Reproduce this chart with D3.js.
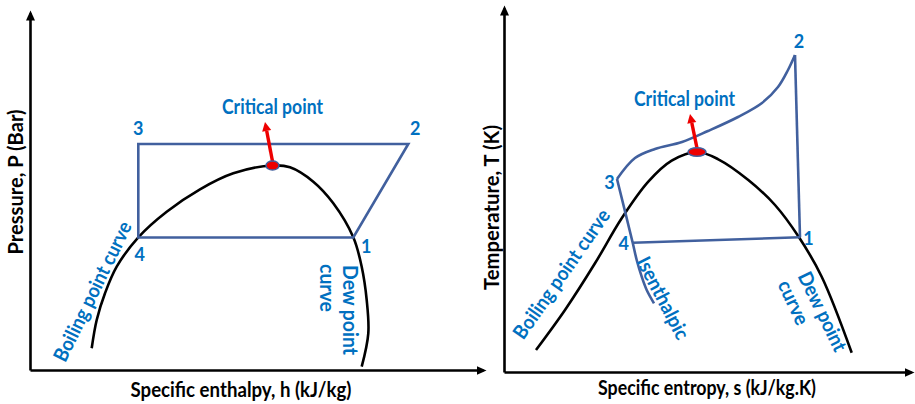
<!DOCTYPE html>
<html>
<head>
<meta charset="utf-8">
<script src="https://cdn.jsdelivr.net/npm/d3@7"></script>
<style>
  html, body { margin: 0; padding: 0; background: #ffffff; }
  svg { display: block; }
  text { font-family: Lato, "Open Sans", "DejaVu Sans", sans-serif; font-weight: 700; }
</style>
</head>
<body>
<svg id="chart" width="915" height="404"></svg>
<script>
// ---------- Pressure–enthalpy diagram (schematic units) ----------
// saturation dome: boiling branch → critical point → dew branch
const phDome = [[61.7,21.7],[66.7,50],[75,76.7],[86.7,103.3],[108.3,132.7],[136.7,158.3],
                [170,180.7],[203.3,196.7],[242.5,204.5],[260,202.7],[283.3,188.3],[303.3,166.7],
                [323.3,132.7],[331.7,103.3],[336.7,70],[338.3,36.7],[331.7,3.3]];
// refrigeration cycle corners, in order 4 → 3 → 2 → 1
const phCycle  = [[108.3,132.5],[108.3,226],[378.3,226],[323.3,132.5]];
const phStates = ["4","3","2","1"];
const phCritical = [242.5,204.5];
const phCriticalArrowTip = [235,248];

// ---------- Temperature–entropy diagram (schematic units) ----------
const tsDome = [[32,22],[61,62],[91,108.7],[117.7,153.7],[144.3,190.3],[167.7,211.3],[193,220],
                [214.3,212.7],[244.3,192],[271,167],[295,134.7],[317.7,95.3],[347.7,19.3]];
// heat rejection 2 → 3, drawn from state 3 up to state 2
const tsGasCooler   = [[113,193],[131,214],[151,223],[178,230],[204,241],[234,255],[258,269],
                       [274,285],[284,302],[291,317]];
const tsCompression = [[291,317],[296,134.7]];          // 2 ↔ 1
const tsEvaporation = [[296,134.7],[128.7,129.3]];      // 1 → 4
const tsIsenthalpic = [[113,193],[128.7,129.3],[132.7,112],[137.7,95.3],[142.7,82],[150,68.7]];
const tsStates      = ["2","1","4","3"];
const tsStatePoints = [[291,317],[296,134.7],[128.7,129.3],[113,193]];
const tsCritical = [193,220];
const tsCriticalArrowTip = [186,258];

// ---------- styling ----------
const CYCLE = "#41609e", LABEL = "#0070c0", RED = "#ee0000", INK = "#000000";
const FONT = 20;

const svg = d3.select("#chart");

// arrowhead used at the end of every axis line
svg.append("defs").append("marker")
  .attr("id", "axisHead")
  .attr("markerUnits", "userSpaceOnUse")
  .attr("markerWidth", 11).attr("markerHeight", 10)
  .attr("refX", 7).attr("refY", 4.5)
  .attr("orient", "auto")
  .append("path").attr("d", "M0,0L10,4.5L0,9Z").attr("fill", INK);

function label(g, x, y, txt, o) {
  const t = g.append("text")
    .attr("transform", `translate(${x},${y}) rotate(${o.angle || 0})`)
    .attr("text-anchor", o.anchor || "middle")
    .attr("dy", o.dy === undefined ? "0.35em" : o.dy)
    .attr("fill", o.color || LABEL)
    .attr("font-size", o.size || FONT)
    .text(txt);
  if (o.length) t.attr("textLength", o.length).attr("lengthAdjust", "spacingAndGlyphs");
  return t;
}

function drawAxes(g, x, y) {
  const ax = g.append("g").attr("transform", `translate(0,${y.range()[0]})`)
    .call(d3.axisBottom(x).tickValues([]).tickSizeOuter(0));
  const ay = g.append("g").attr("transform", `translate(${x.range()[0]},0)`)
    .call(d3.axisLeft(y).tickValues([]).tickSizeOuter(0));
  [ax, ay].forEach(a => a.select(".domain")
    .attr("stroke", INK).attr("stroke-width", 2.6)
    .attr("marker-end", "url(#axisHead)"));
}

function critical(g, x, y, pt, tip, rx, ry) {
  const cx = x(pt[0]), cy = y(pt[1]);
  const p0 = [cx, cy - ry + 0.5], p1 = [x(tip[0]), y(tip[1])];
  const dx = p1[0] - p0[0], dy = p1[1] - p0[1], L = Math.hypot(dx, dy);
  const ux = dx / L, uy = dy / L, head = 9, half = 4.6;
  const bx = p1[0] - ux * head, by = p1[1] - uy * head;
  g.append("line").attr("x1", p0[0]).attr("y1", p0[1]).attr("x2", bx).attr("y2", by)
    .attr("stroke", RED).attr("stroke-width", 3.4);
  g.append("path")
    .attr("d", `M${p1[0]},${p1[1]}L${bx - uy * half},${by + ux * half}L${bx + uy * half},${by - ux * half}Z`)
    .attr("fill", RED);
  g.append("ellipse").attr("cx", cx).attr("cy", cy).attr("rx", rx).attr("ry", ry)
    .attr("fill", RED).attr("stroke", CYCLE).attr("stroke-width", 1.5);
}

const smooth = (x, y) => d3.line().x(d => x(d[0])).y(d => y(d[1])).curve(d3.curveCatmullRom.alpha(0.5));
const straight = (x, y) => d3.line().x(d => x(d[0])).y(d => y(d[1]));

// ================= left panel: P–h =================
{
  const g = svg.append("g");
  const x = d3.scaleLinear().domain([0, 453]).range([30, 483]);
  const y = d3.scaleLinear().domain([0, 357]).range([370, 13]);
  drawAxes(g, x, y);

  g.append("path").datum(phDome).attr("d", smooth(x, y))
    .attr("fill", "none").attr("stroke", INK).attr("stroke-width", 2.6);

  g.append("path").datum(phCycle).attr("d", d => straight(x, y)(d) + "Z")
    .attr("fill", "none").attr("stroke", CYCLE).attr("stroke-width", 2.6)
    .attr("stroke-linejoin", "miter");

  const offs = [[1.5, 17], [0, -15], [7, -15], [13, 9]];
  phCycle.forEach((p, i) =>
    label(g, x(p[0]) + offs[i][0], y(p[1]) + offs[i][1], phStates[i], { size: 18 }));

  critical(g, x, y, phCritical, phCriticalArrowTip, 6.5, 4.6);
  label(g, x(phCritical[0]), y(phCritical[1]) - 51.5, "Critical point", { dy: 0, length: 101 });

  label(g, 92.5, 291.5, "Boiling point curve", { angle: -64, length: 153 });
  label(g, 350, 265, "Dew point", { angle: 90, anchor: "start", length: 90 });
  label(g, 327, 264, "curve", { angle: 90, anchor: "start", length: 48 });

  label(g, 241, 397, "Specific enthalpy, h (kJ/kg)", { color: INK, dy: 0, length: 221, size: 20 });
  label(g, 15.5, 182, "Pressure, P (Bar)", { color: INK, angle: -90, length: 145, size: 20 });
}

// ================= right panel: T–s =================
{
  const g = svg.append("g");
  const x = d3.scaleLinear().domain([0, 407]).range([504, 911]);
  const y = d3.scaleLinear().domain([0, 364]).range([372, 8]);
  drawAxes(g, x, y);

  g.append("path").datum(tsDome).attr("d", smooth(x, y))
    .attr("fill", "none").attr("stroke", INK).attr("stroke-width", 2.6);

  const cyc = g.append("g").attr("fill", "none").attr("stroke", CYCLE).attr("stroke-width", 2.6);
  cyc.append("path").datum(tsGasCooler).attr("d", smooth(x, y));
  cyc.append("path").datum(tsCompression).attr("d", straight(x, y));
  cyc.append("path").datum(tsEvaporation).attr("d", straight(x, y));
  cyc.append("path").datum(tsIsenthalpic).attr("d", smooth(x, y));

  const offs = [[4, -13.5], [8.5, 1], [-9, 1], [-7.5, 4]];
  tsStatePoints.forEach((p, i) =>
    label(g, x(p[0]) + offs[i][0], y(p[1]) + offs[i][1], tsStates[i], { size: 18 }));

  critical(g, x, y, tsCritical, tsCriticalArrowTip, 9, 4.3);
  label(g, x(tsCritical[0]) - 12.5, y(tsCritical[1]) - 46, "Critical point", { dy: 0, length: 101 });

  label(g, 561.5, 274, "Boiling point curve", { angle: -55, length: 153 });
  label(g, 663, 298, "Isenthalpic", { angle: 62.5, length: 90 });
  label(g, 822.5, 311.5, "Dew point", { angle: 64, length: 86 });
  label(g, 793.5, 302.5, "curve", { angle: 65, length: 47 });

  label(g, 707, 395, "Specific entropy, s (kJ/kg.K)", { color: INK, dy: 0, length: 218, size: 20 });
  label(g, 491.5, 207.5, "Temperature, T (K)", { color: INK, angle: -90, length: 165, size: 20 });
}
</script>
</body>
</html>
